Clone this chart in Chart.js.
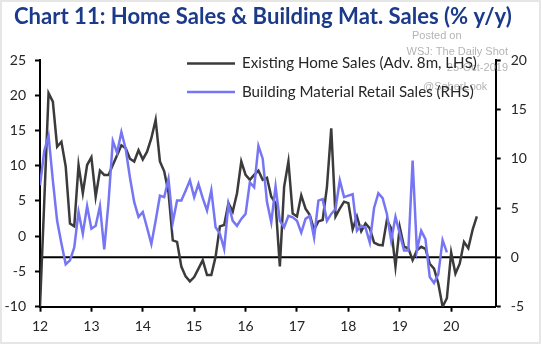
<!DOCTYPE html>
<html>
<head>
<meta charset="utf-8">
<script src="https://cdn.jsdelivr.net/npm/chart.js@4"></script>
<style>
  html, body { margin: 0; padding: 0; background: #ffffff; }
  #wrap { width: 541px; height: 344px; position: relative; }
</style>
</head>
<body>
<div id="wrap"><canvas id="c"></canvas></div>
<script>
// ---- data (monthly, first value = Jan 2012) ----
const titleText = 'Chart 11: Home Sales & Building Mat. Sales (% y/y)';
const seriesNames = ['Existing Home Sales (Adv. 8m, LHS)', 'Building Material Retail Sales (RHS)'];
const xTickLabels = ['12', '13', '14', '15', '16', '17', '18', '19', '20'];
const xTickMonths = [0, 12, 24, 36, 48, 60, 72, 84, 96];
const leftTicks = [-10, -5, 0, 5, 10, 15, 20, 25];
const rightTicks = [-5, 0, 5, 10, 15, 20];
const watermarkLines = ['Posted on', 'WSJ: The Daily Shot', '25-Oct-2019', '@SoberLook'];

const existingHomeSales = [
  -10, 5, 20.3, 19.1, 12.7, 13.4, 9.9, 1.8, 1.4, 10.1, 6.1, 10.1,
  11.2, 5.6, 9.3, 8.7, 8.7, 10.1, 11.5, 12.9, 12.5, 11.0, 10.6, 12.2,
  10.9, 12.0, 13.9, 16.5, 10.6, 9.2, 6.2, -0.6, -0.8, -4.3, -5.7, -6.4,
  -5.8, -4.6, -3.4, -5.5, -5.5, -2.9, 1.4, 1.6, 4.7, 3.5, 6.1, 10.6,
  8.7, 8.0, 8.7, 9.3, 8.0, 8.3, 5.6, 4.7, -4.3, 7.0, 10.6, 3.2,
  2.8, 5.8, 3.9, 3.0, 0.9, 2.1, 2.3, 7.0, 15.3, 2.8, 3.9, 4.9,
  4.7, 1.0, 2.8, 0.7, 1.8, 1.1, -0.9, -1.2, -1.3, 2.3, 1.1, -4.3,
  1.3, -1.5, -1.7, -3.4, -2.0, -1.5, -1.8, -3.9, -4.6, -6.7, -10, -8.8,
  -2.3, -5.3, -3.9, -0.8, -1.7, 0.9, 2.8
];

const buildingMaterialSales = [
  7.3, 10.8, 12.3, 7.8, 3.7, 1.4, -0.7, -0.3, 1.0, 4.6, 2.4, 5.2,
  2.9, 3.2, 5.2, 0.8, 5.6, 11.8, 10.6, 12.7, 11.0, 8.1, 5.6, 4.1,
  4.6, 3.0, 1.35, 3.7, 6.25, 6.1, 7.95, 3.55, 5.75, 5.75, 6.75, 7.8,
  6.1, 7.45, 6.0, 4.75, 6.8, 3.05, 2.4, 0.85, 5.4, 3.7, 3.2, 3.9,
  4.4, 7.6, 7.1, 11.3, 10.0, 5.6, 3.55, 7.2, 3.7, 3.05, 4.2, 4.05,
  3.7, 2.5, 3.9, 4.2, 2.0, 5.75, 5.9, 3.7, 4.4, 4.9, 7.8, 6.1,
  6.25, 6.4, 2.7, 3.2, 3.0, 1.5, 5.0, 6.5, 6.0, 4.4, 1.7, 4.1,
  2.4, 0.7, 0.7, 9.8, 0.7, 2.7, 1.85, -2.0, -2.6, -1.7, 1.75, 0.5
];

// ---- styles ----
const BLACK_LINE = '#3b3b3b';
const BLUE_LINE = '#7676f5';
const TITLE_COLOR = '#1b3a8a';
const TEXT_COLOR = '#262626';
const FONT = 'Lato, "Open Sans", sans-serif';

const toPoints = arr => arr.map((v, i) => ({ x: i, y: v }));

const decorPlugin = {
  id: 'decor',
  beforeDatasetsDraw(chart) {
    const { ctx, chartArea } = chart;
    const y2 = chart.scales.y2;
    const yz = y2.getPixelForValue(0);
    ctx.save();
    ctx.strokeStyle = '#000';
    ctx.lineWidth = 2;
    ctx.beginPath();
    ctx.moveTo(chartArea.left, yz);
    ctx.lineTo(chartArea.right, yz);
    ctx.stroke();
    ctx.restore();
  },
  afterDraw(chart) {
    const ctx = chart.ctx;
    ctx.save();
    // outer light frame
    ctx.strokeStyle = '#e6e6e6';
    ctx.lineWidth = 2;
    ctx.strokeRect(1, 1, chart.width - 2, chart.height - 2);

    // title
    ctx.fillStyle = TITLE_COLOR;
    ctx.textBaseline = 'alphabetic';
    ctx.textAlign = 'left';
    ctx.font = 'bold 22px ' + FONT;
    let w = ctx.measureText(titleText).width;
    let size = 22 * 498 / w;
    ctx.font = 'bold ' + size.toFixed(2) + 'px ' + FONT;
    ctx.fillText(titleText, 14, 24);

    // watermark
    ctx.fillStyle = '#b4b4b4';
    ctx.font = '11px "Liberation Sans", Arial, sans-serif';
    ctx.textAlign = 'left';
    ctx.fillText(watermarkLines[0], 412, 39);
    ctx.textAlign = 'right';
    ctx.fillText(watermarkLines[1], 508, 55);
    ctx.fillText(watermarkLines[2], 508, 71);
    ctx.textAlign = 'left';
    ctx.fillText(watermarkLines[3], 423, 90);

    // legend
    ctx.font = '15px ' + FONT;
    w = ctx.measureText(seriesNames[0]).width;
    size = 15 * 235 / w;
    ctx.font = size.toFixed(2) + 'px ' + FONT;
    ctx.textAlign = 'left';
    ctx.textBaseline = 'middle';
    const colors = [BLACK_LINE, BLUE_LINE];
    const ys = [63.5, 92];
    for (let i = 0; i < 2; i++) {
      ctx.strokeStyle = colors[i];
      ctx.lineWidth = 2.5;
      ctx.beginPath();
      ctx.moveTo(187, ys[i]);
      ctx.lineTo(235, ys[i]);
      ctx.stroke();
      ctx.fillStyle = TEXT_COLOR;
      ctx.fillText(seriesNames[i], 242, ys[i]);
    }
    ctx.restore();
  }
};

const tickFont = { family: FONT, size: 14 };

new Chart(document.getElementById('c'), {
  type: 'line',
  data: {
    datasets: [
      {
        label: seriesNames[1],
        data: toPoints(buildingMaterialSales),
        yAxisID: 'y2',
        borderColor: BLUE_LINE,
        borderWidth: 2.5,
        pointRadius: 0,
        tension: 0,
        order: 0
      },
      {
        label: seriesNames[0],
        data: toPoints(existingHomeSales),
        yAxisID: 'y',
        borderColor: BLACK_LINE,
        borderWidth: 2.5,
        pointRadius: 0,
        tension: 0,
        order: 1
      }
    ]
  },
  options: {
    responsive: true,
    maintainAspectRatio: false,
    animation: false,
    devicePixelRatio: 1,
    layout: { padding: { top: 60, left: 0, right: 0, bottom: 0 } },
    plugins: {
      legend: { display: false },
      title: { display: false },
      tooltip: { enabled: false }
    },
    scales: {
      x: {
        type: 'linear',
        min: 0,
        max: 106.4,
        afterBuildTicks: s => { s.ticks = xTickMonths.map(v => ({ value: v })); },
        afterFit: s => { s.height = 37.3; },
        ticks: {
          autoSkip: false,
          maxRotation: 0,
          padding: 6,
          color: TEXT_COLOR,
          font: tickFont,
          callback: v => xTickLabels[xTickMonths.indexOf(v)]
        },
        grid: { drawOnChartArea: false, drawTicks: true, tickLength: 5, tickColor: '#000', tickWidth: 2 },
        border: { display: true, color: '#000', width: 2 }
      },
      y: {
        type: 'linear',
        position: 'left',
        min: -10,
        max: 25,
        afterBuildTicks: s => { s.ticks = leftTicks.map(v => ({ value: v })); },
        afterFit: s => { s.width = 40; },
        ticks: { padding: 9, color: TEXT_COLOR, font: tickFont },
        grid: { drawOnChartArea: false, drawTicks: true, tickLength: 5, tickColor: '#000', tickWidth: 2 },
        border: { display: true, color: '#000', width: 2 }
      },
      y2: {
        type: 'linear',
        position: 'right',
        min: -5,
        max: 20,
        afterBuildTicks: s => { s.ticks = rightTicks.map(v => ({ value: v })); },
        afterFit: s => { s.width = 45.3; },
        ticks: { padding: 10, color: TEXT_COLOR, font: tickFont },
        grid: { drawOnChartArea: false, drawTicks: true, tickLength: 5, tickColor: '#000', tickWidth: 2 },
        border: { display: true, color: '#000', width: 2 }
      }
    }
  },
  plugins: [decorPlugin]
});
</script>
</body>
</html>
